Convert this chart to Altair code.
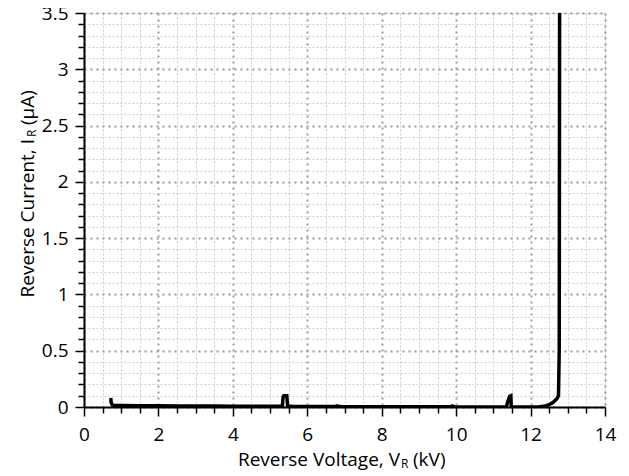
import altair as alt
import pandas as pd

# Reverse I-V curve (kV, µA)
voltage_kv = [0.72, 0.73, 0.76, 0.80, 1.0, 1.5, 2.0, 2.5, 3.0, 3.5, 4.0, 4.5, 5.0, 5.33,
              5.35, 5.37, 5.45, 5.47, 5.6, 6.0, 6.5, 6.75, 6.8, 6.85, 7.0, 7.5, 8.0, 8.5,
              9.0, 9.5, 9.85, 9.9, 9.95, 10.5, 11.0, 11.35, 11.39, 11.44, 11.47, 11.48,
              11.6, 12.0, 12.2, 12.35, 12.5, 12.6, 12.7, 12.75, 12.77, 12.78]
current_ua = [0.08, 0.04, 0.02, 0.015, 0.013, 0.011, 0.010, 0.009, 0.008, 0.008, 0.007, 0.007, 0.006, 0.006,
              0.09, 0.10, 0.10, 0.01, 0.006, 0.005, 0.004, 0.004, 0.010, 0.004, 0.003, 0.003, 0.002, 0.002,
              0.002, 0.002, 0.002, 0.010, 0.002, 0.001, 0.001, 0.001, 0.05, 0.095, 0.10, 0.0,
              0.0, 0.0, 0.001, 0.006, 0.02, 0.04, 0.07, 0.10, 0.5, 3.5]

x_ticks = [round(0.5 * i, 1) for i in range(29)]
y_ticks = [round(0.1 * i, 1) for i in range(36)]

x_title = ["Reverse Voltage, V", "R", "(kV)"]
y_title = ["Reverse Current, I", "R", "(µA)"]

FONT = "Open Sans"
df = pd.DataFrame({"v": voltage_kv, "i": current_ua, "k": list(range(len(voltage_kv)))})

x_major = "datum.value % 2 === 0"
y_major = "abs(datum.value * 2 - round(datum.value * 2)) < 0.001"


def cond(test, a, b):
    return {"condition": {"test": test, "value": a}, "value": b}


x_axis = alt.Axis(
    values=x_ticks, title=None, format="~g",
    labelExpr=f"{x_major} ? datum.label : ''",
    labelOverlap=False, labelFlush=False, labelBound=False,
    labelFont=FONT, labelFontSize=19, labelColor="black", labelPadding=9,
    grid=True,
    gridColor=cond(x_major, "#9a9a9a", "#cdcdcd"),
    gridDash=cond(x_major, [2, 4], [2, 2]),
    gridWidth=cond(x_major, 2, 1),
    tickSize=cond(x_major, 9, 6), tickColor="black", tickWidth=1.5,
    domainColor="black", domainWidth=2,
)
y_axis = alt.Axis(
    values=y_ticks, title=None, format="~g",
    labelExpr=f"{y_major} ? format(datum.value, '~g') : ''",
    labelOverlap=False, labelFlush=False, labelBound=False,
    labelFont=FONT, labelFontSize=19, labelColor="black", labelPadding=7,
    grid=True,
    gridColor=cond(y_major, "#9a9a9a", "#cdcdcd"),
    gridDash=cond(y_major, [2, 4], [2, 2]),
    gridWidth=cond(y_major, 2, 1),
    tickSize=cond(y_major, 9, 6), tickColor="black", tickWidth=1.5,
    domainColor="black", domainWidth=2,
)

line = alt.Chart(df).mark_line(color="black", strokeWidth=3.5, clip=True,
                               strokeJoin="miter").encode(
    x=alt.X("v:Q", scale=alt.Scale(domain=[0, 14], nice=False, zero=False), axis=x_axis),
    y=alt.Y("i:Q", scale=alt.Scale(domain=[0, 3.5], nice=False, zero=False), axis=y_axis),
    order="k:Q",
)

W, H = 521, 394


def txt(s, x, y, size, align, angle=0):
    return alt.Chart(pd.DataFrame({"t": [s]})).mark_text(
        font=FONT, fontSize=size, color="black", align=align,
        baseline="alphabetic", angle=angle,
    ).encode(text="t:N", x=alt.value(x), y=alt.value(y))


# x-axis title: junction of V and subscript R at x=316 (plot coords)
xt1 = txt(x_title[0], 316, 453, 19, "right")
xt2 = txt(x_title[1], 317, 455, 12, "left")
xt3 = txt(x_title[2], 329, 453, 19, "left")
# y-axis title (rotated)
yt1 = txt(y_title[0], -50, 126, 19, "right", 270)
yt2 = txt(y_title[1], -48, 124, 12, "left", 270)
yt3 = txt(y_title[2], -50, 112, 19, "left", 270)

chart = alt.layer(line, xt1, xt2, xt3, yt1, yt2, yt3).properties(
    width=W, height=H,
    autosize=alt.AutoSizeParams(type="none"),
    padding={"left": 76, "top": 5, "right": 16, "bottom": 69},
).configure_view(stroke="black", strokeWidth=1.5).configure(background="white")

chart.save("out.html", embed_options={"renderer": "svg", "actions": False})
